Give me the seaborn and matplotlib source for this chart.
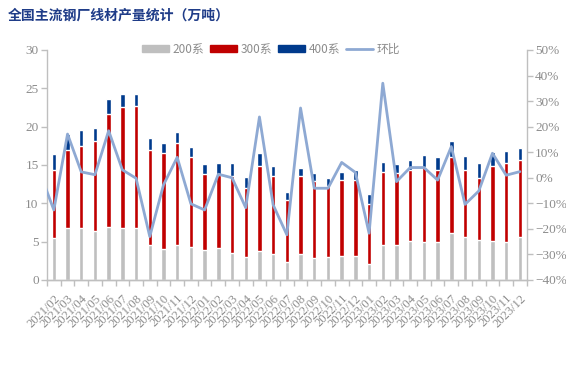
import pandas as pd
import matplotlib
matplotlib.use('Agg')
import matplotlib.pyplot as plt
from matplotlib.patches import Patch
from matplotlib.lines import Line2D
from matplotlib.ticker import PercentFormatter, FixedLocator
import seaborn as sns

# months shown on the axis
months = ['2021/02', '2021/03', '2021/04', '2021/05', '2021/06', '2021/07', '2021/08',
          '2021/09', '2021/10', '2021/11', '2021/12', '2022/01', '2022/02', '2022/03',
          '2022/04', '2022/05', '2022/06', '2022/07', '2022/08', '2022/09', '2022/10',
          '2022/11', '2022/12', '2023/01', '2023/02', '2023/03', '2023/04', '2023/05',
          '2023/06', '2023/07', '2023/08', '2023/09', '2023/10', '2023/11', '2023/12']

# output by grade, 10k tons
s200 = [5.5, 6.8, 6.8, 6.4, 6.9, 6.8, 6.8, 4.6, 4.0, 4.6, 4.3, 3.9, 4.2, 3.5, 3.0, 3.8,
        3.4, 2.3, 3.4, 2.9, 3.0, 3.1, 3.1, 2.1, 4.6, 4.6, 5.1, 5.0, 5.0, 6.1, 5.6, 5.2,
        5.1, 5.0, 5.6]
s300 = [8.8, 10.2, 10.7, 11.7, 14.8, 15.7, 15.9, 12.4, 12.5, 13.3, 11.7, 9.9, 9.5, 10.1,
        9.0, 11.1, 10.2, 8.1, 10.2, 10.0, 9.3, 9.9, 9.9, 7.8, 9.5, 9.4, 9.2, 9.7, 9.3,
        9.9, 8.7, 8.1, 9.8, 10.2, 10.1]
s400 = [2.1, 2.1, 2.1, 1.7, 1.9, 1.8, 1.6, 1.5, 1.4, 1.4, 1.3, 1.3, 1.6, 1.7, 1.4, 1.7,
        1.3, 1.1, 1.0, 1.1, 1.0, 1.1, 1.3, 1.3, 1.3, 1.1, 1.4, 1.6, 1.7, 2.1, 1.9, 2.0,
        1.8, 1.6, 1.5]

# month-on-month change, first value belongs to 2021/01 (only its segment shows)
mom = [1.8, -12.6, 17.1, 2.3, 1.2, 18.4, 3.1, -0.2, -23.0, -2.8, 8.0, -10.2, -12.6, 1.4,
       0.0, -11.7, 23.8, -10.6, -22.3, 27.3, -4.1, -4.1, 6.0, 2.1, -21.7, 37.0, -1.5,
       4.0, 4.0, -0.9, 12.2, -10.4, -5.2, 9.6, 1.0, 2.4]

df = pd.DataFrame({'month': months, 's200': s200, 's300': s300, 's400': s400})
df['top300'] = df['s200'] + df['s300']
df['top400'] = df['top300'] + df['s400']

line_df = pd.DataFrame({'x': range(-1, len(months)), 'mom': [v / 100 for v in mom]})

sns.set_theme(style='white')
plt.rcParams['font.family'] = ['Liberation Serif', 'Noto Sans CJK SC']

c200, c300, c400, cline = '#BFBFBF', '#C00000', '#003A8C', '#8EA9D3'
gray = '#8C8C8C'

fig = plt.figure(figsize=(5.66, 3.66), dpi=100)
ax = fig.add_axes([0.083, 0.235, 0.8476, 0.6284])

sns.barplot(data=df, x='month', y='top400', color=c400, saturation=1, width=0.32, ax=ax)
sns.barplot(data=df, x='month', y='top300', color=c300, saturation=1, width=0.32, ax=ax)
sns.barplot(data=df, x='month', y='s200', color=c200, saturation=1, width=0.32, ax=ax)

ax2 = ax.twinx()
sns.lineplot(data=line_df, x='x', y='mom', color=cline, linewidth=2.0, ax=ax2)

ax.set_xlim(-0.5, len(months) - 0.5)
ax.set_ylim(0, 30)
ax2.set_ylim(-0.4, 0.5)
ax.set_yticks(range(0, 31, 5))
ax2.set_yticks([i / 100 for i in range(-40, 51, 10)])
ax2.yaxis.set_major_formatter(PercentFormatter(1.0, decimals=0))

ax.set_xlabel('')
ax.set_ylabel('')
ax2.set_ylabel('')
ax.set_xticks(range(len(months)))
ax.set_xticklabels(months, rotation=45, ha='right', rotation_mode='anchor')
ax.xaxis.set_minor_locator(FixedLocator([i - 0.5 for i in range(len(months) + 1)]))

for a in (ax, ax2):
    for side in a.spines:
        a.spines[side].set_color('#BFBFBF')
        a.spines[side].set_linewidth(1.0)
    a.spines['top'].set_visible(False)
ax.spines['right'].set_visible(False)
ax2.spines['left'].set_visible(False)

ax.tick_params(axis='x', which='major', length=0, pad=9, labelsize=9, labelcolor=gray)
ax.tick_params(axis='x', which='minor', length=4, width=1, color='#BFBFBF', direction='out', bottom=True)
ax.tick_params(axis='y', length=4, width=1, color='#BFBFBF', direction='out', left=True,
               labelsize=9.5, labelcolor=gray, pad=2)
ax2.tick_params(axis='y', length=4, width=1, color='#BFBFBF', direction='out', right=True,
                labelsize=9.5, labelcolor=gray, pad=2)
ax.grid(False)
ax2.grid(False)

fig.text(0.014, 0.958, '全国主流钢厂线材产量统计（万吨）', fontsize=10, fontweight='bold',
         color='#1F3C88', family=['Noto Sans CJK SC'], va='center', ha='left')

handles = [Patch(color=c200), Patch(color=c300), Patch(color=c400),
           Line2D([], [], color=cline, linewidth=2.0)]
fig.legend(handles, ['200系', '300系', '400系', '环比'], loc='center',
           bbox_to_anchor=(0.479, 0.866), ncol=4, frameon=False,
           prop={'family': ['Noto Sans CJK SC'], 'size': 8.5}, labelcolor=gray,
           handlelength=2.3, handleheight=0.5, handletextpad=0.3, columnspacing=0.5)

fig.savefig('out.png', dpi=100)
